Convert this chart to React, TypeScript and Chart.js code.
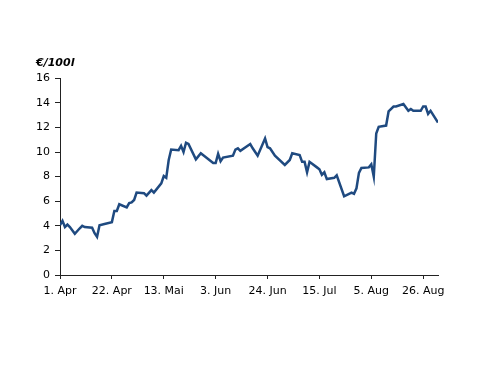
import { useEffect, useRef } from "react";
import { Chart, registerables } from "chart.js";

Chart.register(...registerables);

const unitLabel = "€/100l";

const dates = [
  "04-01", "04-02", "04-03", "04-04", "04-05", "04-07", "04-09", "04-10", "04-11", "04-14",
  "04-15", "04-16", "04-17", "04-19", "04-22", "04-23", "04-24", "04-25", "04-28", "04-29",
  "04-30", "05-01", "05-02", "05-05", "05-06", "05-08", "05-09", "05-12", "05-13", "05-14",
  "05-15", "05-16", "05-19", "05-20", "05-21", "05-22", "05-23", "05-26", "05-28", "06-02",
  "06-03", "06-04", "06-05", "06-06", "06-10", "06-11", "06-12", "06-13", "06-17", "06-18",
  "06-20", "06-23", "06-24", "06-25", "06-27", "07-01", "07-03", "07-04", "07-07", "07-08",
  "07-09", "07-10", "07-11", "07-14", "07-15", "07-16", "07-17", "07-18", "07-21", "07-22",
  "07-25", "07-27", "07-28", "07-29", "07-30", "07-31", "08-01", "08-04", "08-05", "08-06",
  "08-07", "08-08", "08-11", "08-12", "08-14", "08-15", "08-18", "08-20", "08-21", "08-22",
  "08-25", "08-26", "08-27", "08-28", "08-29", "09-01",
];

const prices = [
  4.05, 4.4, 3.9, 4.1, 3.9, 3.35, 3.8, 4.0, 3.9, 3.85,
  3.4, 3.1, 4.05, 4.15, 4.3, 5.2, 5.2, 5.75, 5.5, 5.85,
  5.9, 6.1, 6.7, 6.65, 6.45, 6.9, 6.7, 7.45, 8.05, 7.9,
  9.35, 10.2, 10.15, 10.5, 10.0, 10.75, 10.65, 9.4, 9.9, 9.1,
  9.1, 9.85, 9.25, 9.55, 9.7, 10.2, 10.3, 10.1, 10.65, 10.3,
  9.7, 11.1, 10.4, 10.3, 9.7, 8.95, 9.35, 9.9, 9.75, 9.2,
  9.2, 8.35, 9.2, 8.75, 8.6, 8.15, 8.35, 7.8, 7.9, 8.1,
  6.4, 6.6, 6.7, 6.6, 7.05, 8.3, 8.7, 8.75, 9.0, 8.0,
  11.5, 12.05, 12.15, 13.3, 13.7, 13.7, 13.9, 13.35, 13.5, 13.35,
  13.35, 13.7, 13.7, 13.1, 13.35, 12.4,
];

const tickDates = ["04-01", "04-22", "05-13", "06-03", "06-24", "07-15", "08-05", "08-26"];
const tickLabels = ["1. Apr", "22. Apr", "13. Mai", "3. Jun", "24. Jun", "15. Jul", "5. Aug", "26. Aug"];
const axisStart = "04-01";
const axisEnd = "09-01";
const yMin = 0;
const yMax = 16;
const yStep = 2;

function dayIndex(md: string): number {
  const [m, d] = md.split("-").map(Number);
  const [m0, d0] = axisStart.split("-").map(Number);
  return Math.round((Date.UTC(2019, m - 1, d) - Date.UTC(2019, m0 - 1, d0)) / 86400000);
}

export default function App() {
  const ref = useRef<HTMLCanvasElement | null>(null);

  useEffect(() => {
    if (!ref.current) return;
    const font = { family: "'DejaVu Sans', sans-serif", size: 11 };
    const tickDays = tickDates.map(dayIndex);
    const chart = new Chart(ref.current, {
      type: "line",
      data: {
        datasets: [
          {
            data: dates.map((d, i) => ({ x: dayIndex(d), y: prices[i] })),
            borderColor: "#1F4A80",
            borderWidth: 2.5,
            pointRadius: 0,
            tension: 0,
            fill: false,
          },
        ],
      },
      options: {
        animation: false,
        responsive: false,
        maintainAspectRatio: false,
        layout: { padding: { left: 36, right: 62, top: 57, bottom: 88 } },
        plugins: {
          legend: { display: false },
          tooltip: { enabled: false },
          title: {
            display: true,
            text: unitLabel,
            align: "start",
            color: "#000",
            font: { ...font, weight: "bold", style: "italic" },
            padding: { top: 0, bottom: 8 },
          },
        },
        scales: {
          x: {
            type: "linear",
            min: dayIndex(axisStart),
            max: dayIndex(axisEnd),
            afterBuildTicks: (scale: any) => {
              scale.ticks = tickDays.map((v) => ({ value: v }));
            },
            afterFit: (scale: any) => {
              scale.height = 23;
            },
            ticks: {
              color: "#000",
              font,
              padding: 6,
              maxRotation: 0,
              autoSkip: false,
              callback: (v: any) => {
                const i = tickDays.indexOf(Number(v));
                return i >= 0 ? tickLabels[i] : "";
              },
            },
            grid: { drawOnChartArea: false, drawTicks: true, tickLength: 4, color: "#222" },
            border: { display: true, color: "#222", width: 1 },
          },
          y: {
            min: yMin,
            max: yMax,
            afterFit: (scale: any) => {
              scale.width = 24;
            },
            ticks: { stepSize: yStep, color: "#000", font, padding: 5 },
            grid: { drawOnChartArea: false, drawTicks: true, tickLength: 5, color: "#222" },
            border: { display: true, color: "#222", width: 1 },
          },
        },
      },
    } as any);
    return () => chart.destroy();
  }, []);

  return (
    <div style={{ position: "fixed", left: 0, top: 0, width: 500, height: 386, background: "#fff" }}>
      <canvas ref={ref} width={500} height={386} style={{ width: 500, height: 386, display: "block" }} />
    </div>
  );
}
